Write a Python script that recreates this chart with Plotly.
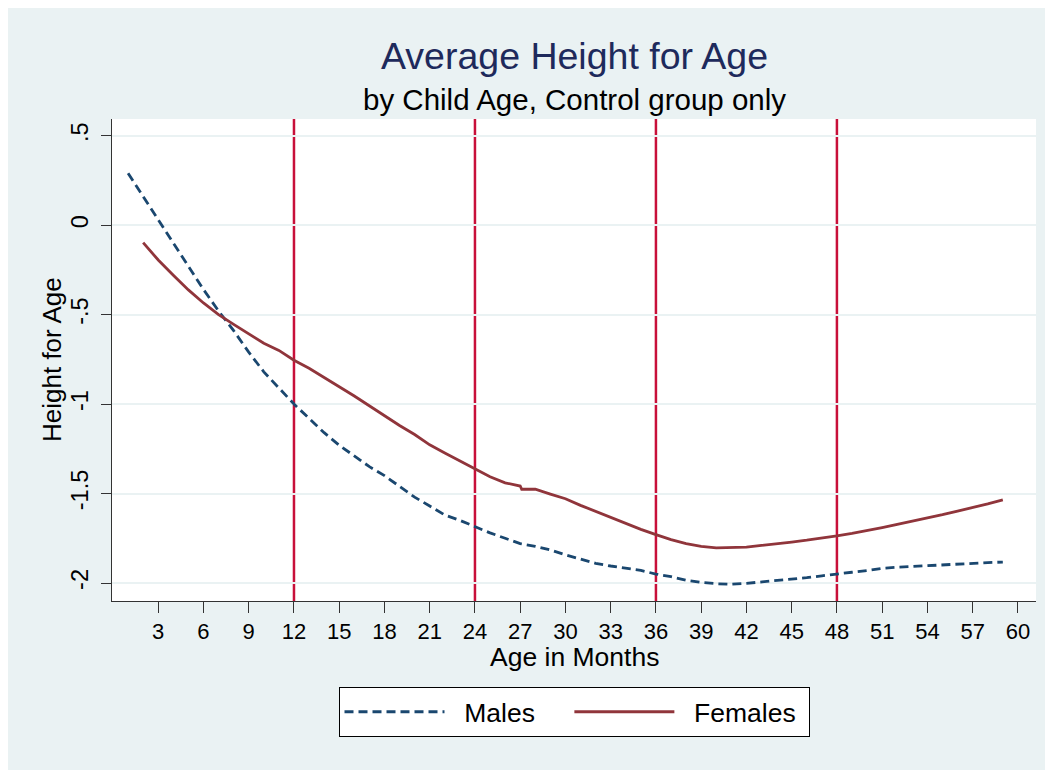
import plotly.graph_objects as go

# ---- data ----
ages_m = list(range(1, 60))
males = [0.29, 0.16, 0.03, -0.10, -0.23, -0.36, -0.48, -0.59, -0.71, -0.82,
         -0.91, -1.00, -1.08, -1.16, -1.23, -1.29, -1.35, -1.40, -1.46, -1.52,
         -1.57, -1.62, -1.65, -1.685, -1.72, -1.75, -1.78, -1.795, -1.815, -1.843,
         -1.868, -1.89, -1.905, -1.918, -1.93, -1.95, -1.965, -1.985, -1.997, -2.004,
         -2.007, -2.002, -1.995, -1.985, -1.977, -1.97, -1.96, -1.952, -1.94, -1.93,
         -1.918, -1.912, -1.907, -1.902, -1.898, -1.894, -1.89, -1.886, -1.883]

ages_f = list(range(2, 28)) + [27.1] + list(range(28, 60))
females = [-0.098, -0.195, -0.28, -0.362, -0.435, -0.50, -0.555, -0.608, -0.66, -0.70,
           -0.755, -0.80, -0.85, -0.903, -0.955, -1.01, -1.068, -1.12, -1.17, -1.228,
           -1.273, -1.318, -1.363, -1.406, -1.44, -1.458, -1.476, -1.476, -1.503, -1.529,
           -1.566, -1.60, -1.633, -1.667, -1.70, -1.73, -1.758, -1.78, -1.795, -1.804,
           -1.804, -1.80, -1.79, -1.782, -1.771, -1.761, -1.75, -1.737, -1.723, -1.708,
           -1.69, -1.672, -1.655, -1.637, -1.618, -1.598, -1.58, -1.558, -1.536]

x_ticks = list(range(3, 61, 3))
y_ticks = [0.5, 0, -0.5, -1, -1.5, -2]
y_tick_labels = [".5", "0", "-.5", "-1", "-1.5", "-2"]
ref_lines = [12, 24, 36, 48]

title = "Average Height for Age"
subtitle = "by Child Age, Control group only"
x_title = "Age in Months"
y_title = "Height for Age"
series_names = ["Males", "Females"]

# ---- style ----
FONT = "Liberation Sans, Arial, sans-serif"
BG = "#EAF2F3"
NAVY = "#1A476F"
MAROON = "#90353B"
RED = "#C8103A"
NB = "\u00a0"

# page is offset by the 8px body margin
OFF = 8
W, H = 1053 - OFF, 770 - OFF
PL, PT, PR, PB = 112, 119, 1036, 601          # plot area in page pixels
L, T = PL - OFF, PT - OFF
pw, ph = PR - PL, PB - PT
R, B = W - L - pw, H - T - ph


def px_x(p):
    return (p - PL) / pw


def px_y(p):
    return (PB - p) / ph


fig = go.Figure()
fig.add_trace(go.Scatter(x=ages_m, y=males, mode="lines",
                         name=NB * 2 + series_names[0] + NB * 4,
                         line=dict(color=NAVY, width=2.8, dash="9px,5px")))
fig.add_trace(go.Scatter(x=ages_f, y=females, mode="lines",
                         name=NB * 2 + series_names[1] + NB * 1,
                         line=dict(color=MAROON, width=2.8)))

for v in ref_lines:
    fig.add_shape(type="line", xref="x", yref="paper", x0=v, x1=v, y0=0, y1=1,
                  line=dict(color=RED, width=2.5), layer="below")

annots = [
    dict(text=title, x=0.5, y=px_y(55.5), font=dict(size=37.5, color="#1E2A5C", family=FONT)),
    dict(text=subtitle, x=0.5, y=px_y(100), font=dict(size=29.5, color="black", family=FONT)),
    dict(text=x_title, x=0.5, y=px_y(657), font=dict(size=26.5, color="black", family=FONT)),
    dict(text=y_title, x=px_x(52), y=0.5, textangle=-90, font=dict(size=26, color="black", family=FONT)),
]
for a in annots:
    fig.add_annotation(xref="paper", yref="paper", xanchor="center", yanchor="middle",
                       showarrow=False, **a)

fig.update_layout(
    width=W, height=H,
    margin=dict(l=L, r=R, t=T, b=B, autoexpand=False),
    paper_bgcolor=BG, plot_bgcolor="white",
    font=dict(family=FONT, color="black"),
    showlegend=True,
    legend=dict(orientation="h", x=0.5, xanchor="center", y=px_y(687), yanchor="top",
                bgcolor="white", bordercolor="black", borderwidth=1,
                font=dict(size=26.5, family=FONT, color="black"), itemwidth=100,
                tracegroupgap=0),
    xaxis=dict(range=[-0.066, 61.2], tickmode="array", tickvals=x_ticks,
               ticks="outside", ticklen=11, tickwidth=1, tickcolor="#333",
               showline=True, linecolor="#333", linewidth=1, showgrid=False,
               zeroline=False, tickfont=dict(size=22, family=FONT, color="black")),
    yaxis=dict(range=[-2.1006, 0.593], tickmode="array", tickvals=y_ticks,
               ticktext=y_tick_labels, tickangle=-90, ticklabelstandoff=4,
               ticks="outside", ticklen=10, tickwidth=1, tickcolor="#333",
               showline=True, linecolor="#333", linewidth=1,
               showgrid=True, gridcolor=BG, gridwidth=2,
               zeroline=False, tickfont=dict(size=23.5, family=FONT, color="black")),
)

fig.write_html("out.html")
